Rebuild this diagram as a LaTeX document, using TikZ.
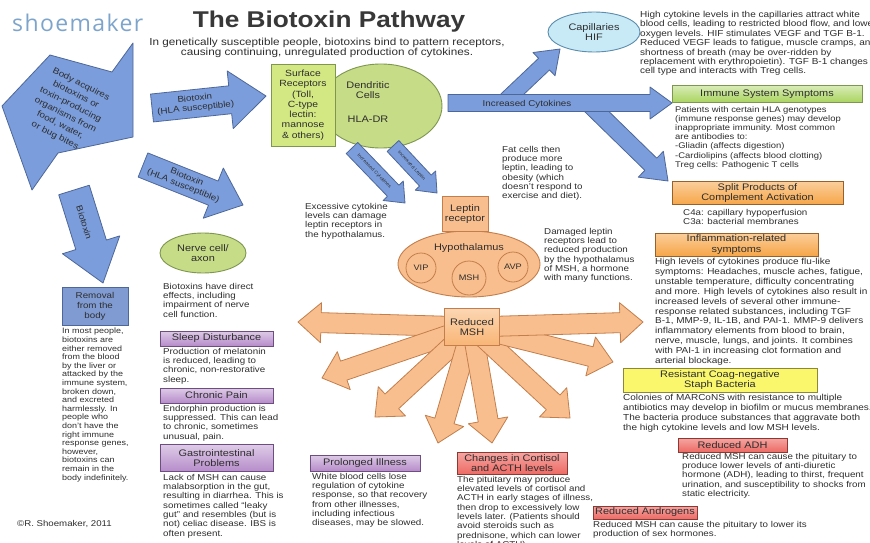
\documentclass[tikz,border=0pt]{standalone}
\usepackage{fontspec}
\setmainfont{Liberation Sans}[FakeStretch=1.15]
\newfontfamily\logofont{Open Sans}[LetterSpace=6]
\usetikzlibrary{calc,shapes.geometric}

\definecolor{ink}{HTML}{2E2E2E}
\definecolor{titleink}{HTML}{383838}
\definecolor{logoblue}{HTML}{7DA5CC}
\definecolor{bluefill}{HTML}{7B9DDC}
\definecolor{blueline}{HTML}{4D6798}
\definecolor{orfill}{HTML}{F9BE8D}
\definecolor{orline}{HTML}{C27E4C}
\definecolor{mshfill}{HTML}{F9B575}
\definecolor{grfill}{HTML}{C6DC86}
\definecolor{grline}{HTML}{7E9650}
\definecolor{lifill}{HTML}{D3E883}
\definecolor{purfill}{HTML}{B68CCA}
\definecolor{purline}{HTML}{6E4E80}
\definecolor{redfill}{HTML}{EE6A64}
\definecolor{redline}{HTML}{8E3833}
\definecolor{ambfill}{HTML}{F6A648}
\definecolor{ambline}{HTML}{96612B}
\definecolor{yelfill}{HTML}{FAF76C}
\definecolor{yelline}{HTML}{8C8838}
\definecolor{cyfill}{HTML}{C8E9F6}
\definecolor{cyline}{HTML}{5C8DAD}
\definecolor{imfill}{HTML}{A9D45E}
\definecolor{remfill}{HTML}{7F9BD2}

% block arrow: style, start, tip, half body width, half head width, head length
\newcommand{\blockarrow}[6]{%
  \draw[#1]
    ($(#2)!#4!90:(#3)$)
    -- ($(#3)!#6!(#2)!#4!-90:(#2)$)
    -- ($(#3)!#6!(#2)!#5!-90:(#2)$)
    -- (#3)
    -- ($(#3)!#6!(#2)!#5!90:(#2)$)
    -- ($(#3)!#6!(#2)!#4!90:(#2)$)
    -- ($(#2)!#4!-90:(#3)$)
    -- cycle;}

\tikzset{
  bluearr/.style={fill=bluefill, draw=blueline, line width=0.8pt, line join=round},
  orarr/.style={fill=orfill, draw=orline, line width=0.8pt, line join=round},
  lbl/.style={draw, line width=0.9pt, inner sep=0pt, align=center, text=ink,
    font=\fontsize{9.5}{10.5}\selectfont},
  purbox/.style={lbl, draw=purline, top color=purfill!45!white, bottom color=purfill},
  redbox/.style={lbl, draw=redline, top color=redfill!60!white, bottom color=redfill},
  ambbox/.style={lbl, draw=ambline, top color=ambfill!55!white, bottom color=ambfill},
  yelbox/.style={lbl, fill=yelfill, draw=yelline},
  grnbox/.style={lbl, draw=grline, top color=imfill!45!white, bottom color=imfill},
  note/.style={anchor=north west, inner sep=0pt, align=left, text=ink,
    font=\fontsize{8.5}{9.3}\selectfont},
  arrtxt/.style={sloped, align=center, text=ink, inner sep=0pt,
    font=\fontsize{8.5}{9.5}\selectfont},
  plain/.style={inner sep=0pt, align=center, text=ink,
    font=\fontsize{9.5}{10.5}\selectfont},
}

\begin{document}
\begin{tikzpicture}[x=1pt,y=-1pt]
\useasboundingbox (0,0) rectangle (870,543);
\fill[white] (0,0) rectangle (870,543);

% ---------- header ----------
\node[font=\logofont\fontsize{23}{23}\selectfont, text=logoblue, anchor=west, inner sep=0pt] (logo) at (12,23) {shoemaker};
\node[font=\bfseries\fontsize{22.8}{23}\selectfont, text=titleink, inner sep=0pt] (title) at (329,22) {The Biotoxin Pathway};
\node[font=\fontsize{10.2}{10.5}\selectfont, text=ink, align=center, inner sep=0pt] (sub) at (327,48)
  {In genetically susceptible people, biotoxins bind to pattern receptors,\\causing continuing, unregulated production of cytokines.};

% ---------- entry arrow ----------
\draw[bluearr] (50,55) -- (112,72) -- (133,43) -- (133,137) -- (58,153) -- (32,190) -- (2,106) -- cycle;
\node[rotate=-27, align=center, text=ink, inner sep=0pt, font=\fontsize{8.6}{11.5}\selectfont] (acquire) at (68,110)
  {Body acquires\\biotoxins or\\toxin-producing\\organisms from\\food, water,\\or bug bites};

% ---------- biotoxin arrows ----------
\coordinate (ba1) at (152,108); \coordinate (ba2) at (266,96);
\coordinate (bb1) at (143,165); \coordinate (bb2) at (243,205);
\coordinate (bt1) at (74,190);  \coordinate (bt2) at (103,283);
\blockarrow{bluearr}{ba1}{ba2}{14pt}{29pt}{36pt}
\blockarrow{bluearr}{bb1}{bb2}{13pt}{27pt}{32pt}
\blockarrow{bluearr}{bt1}{bt2}{16pt}{30pt}{40pt}
\path (ba1) -- (ba2) node[arrtxt, pos=0.38] (batxt) {Biotoxin\\(HLA susceptible)};
\path (bb1) -- (bb2) node[arrtxt, pos=0.42] (bbtxt) {Biotoxin\\(HLA susceptible)};
\path (bt1) -- (bt2) node[arrtxt, pos=0.35] (bttxt) {Biotoxin};

% ---------- receptors and dendritic cells ----------
\node[ellipse, fill=grfill, draw=grline, line width=0.9pt, minimum width=122pt, minimum height=84pt, inner sep=0pt] (dend) at (381,106) {};
\node[plain] (dendtxt) at (368,90) {Dendritic\\Cells};
\node[plain] (hladr) at (368,119) {HLA-DR};
\node[lbl, fill=lifill, draw=grline, minimum width=64pt, minimum height=82pt, font=\fontsize{9}{10.3}\selectfont] (surf) at (303,105)
  {Surface\\Receptors\\(Toll,\\C-type\\lectin:\\mannose\\\& others)};

% ---------- cytokine arrows ----------
\coordinate (cy1) at (448,103); \coordinate (cy2) at (672,103);
\coordinate (cp1) at (503,103); \coordinate (cp2) at (560,49);
\coordinate (sp1) at (588,103); \coordinate (sp2) at (668,181);
\blockarrow{bluearr}{cp1}{cp2}{8pt}{16pt}{22pt}
\blockarrow{bluearr}{sp1}{sp2}{8.5pt}{18pt}{24pt}
\blockarrow{bluearr}{cy1}{cy2}{8.5pt}{16pt}{22pt}
\node[plain, font=\fontsize{8.5}{9.5}\selectfont] (cytxt) at (527,104) {Increased Cytokines};

\coordinate (sa1) at (352,148); \coordinate (sa2) at (405,203);
\coordinate (sb1) at (393,146); \coordinate (sb2) at (437,193);
\blockarrow{bluearr}{sa1}{sa2}{8pt}{14pt}{17pt}
\blockarrow{bluearr}{sb1}{sb2}{8pt}{14pt}{17pt}
\path (sa1) -- (sa2) node[arrtxt, pos=0.42, font=\fontsize{4.5}{5}\selectfont] (satxt) {Increased Cytokines};
\path (sb1) -- (sb2) node[arrtxt, pos=0.42, font=\fontsize{4.5}{5}\selectfont] (sbtxt) {Increased Leptin};

\node[ellipse, fill=cyfill, draw=cyline, line width=0.9pt, minimum width=92pt, minimum height=40pt, plain] (cap) at (594,32) {Capillaries\\HIF};

% ---------- hypothalamus ----------
\node[ellipse, fill=orfill, draw=orline, line width=0.9pt, minimum width=142pt, minimum height=66pt, inner sep=0pt] (hypo) at (469,264) {};
\node[plain] (hypotxt) at (469,248) {Hypothalamus};
\node[circle, fill=orfill, draw=orline, line width=0.8pt, minimum size=30pt, plain, font=\fontsize{8}{9}\selectfont] (vip) at (421,268) {VIP};
\node[circle, fill=orfill, draw=orline, line width=0.8pt, minimum size=34pt, plain, font=\fontsize{8}{9}\selectfont] (msh) at (469,278) {MSH};
\node[circle, fill=orfill, draw=orline, line width=0.8pt, minimum size=30pt, plain, font=\fontsize{8}{9}\selectfont] (avp) at (513,267) {AVP};
\node[lbl, fill=orfill, draw=orline, minimum width=46pt, minimum height=35pt] (leptin) at (465,214) {Leptin\\receptor};

% ---------- reduced MSH fan ----------
\coordinate (m0) at (472,327);
\coordinate (t1) at (298,322); \coordinate (t2) at (322,378);
\coordinate (t3) at (375,417); \coordinate (t4) at (438,443);
\coordinate (t5) at (492,443); \coordinate (t6) at (570,418);
\coordinate (t7) at (613,362); \coordinate (t8) at (643,322);
\foreach \t in {t1,t2,t3,t4,t5,t6,t7,t8}
  {\blockarrow{orarr}{m0}{\t}{10pt}{20pt}{23pt}}
\node[lbl, draw=orline, top color=mshfill!55!white, bottom color=mshfill, minimum width=55pt, minimum height=37pt] (rmsh) at (472,327) {Reduced\\MSH};

% ---------- middle notes ----------
\node[note] (excess) at (305,203) {Excessive cytokine\\levels can damage\\leptin receptors in\\the hypothalamus.};
\node[note] (fat) at (502,146) {Fat cells then\\produce more\\leptin, leading to\\obesity (which\\doesn't respond to\\exercise and diet).};
\node[note] (damaged) at (544,228) {Damaged leptin\\receptors lead to\\reduced production\\by the hypothalamus\\of MSH, a hormone\\with many functions.};

% ---------- left column ----------
\node[lbl, fill=remfill, draw=blueline, minimum width=66pt, minimum height=38pt, font=\fontsize{8.5}{10}\selectfont] (removal) at (95,306) {Removal\\from the\\body};
\node[note, font=\fontsize{7.8}{8.6}\selectfont] (removetxt) at (62,328)
  {In most people,\\biotoxins are\\either removed\\from the blood\\by the liver or\\attacked by the\\immune system,\\broken down,\\and excreted\\harmlessly.  In\\people who\\don't have the\\right immune\\response genes,\\however,\\biotoxins can\\remain in the\\body indefinitely.};
\node[anchor=west, inner sep=0pt, text=ink, font=\fontsize{8.4}{9}\selectfont] (copy) at (17,524) {©R. Shoemaker, 2011};

% ---------- nerve column ----------
\node[ellipse, fill=grfill, draw=grline, line width=0.9pt, minimum width=86pt, minimum height=40pt, plain] (nerve) at (203,253) {Nerve cell/\\axon};
\node[note] (nervetxt) at (163,283) {Biotoxins have direct\\effects, including\\impairment of nerve\\cell function.};
\node[purbox, minimum width=113pt, minimum height=15pt] (sleep) at (216.5,338.5) {Sleep Disturbance};
\node[note] (sleeptxt) at (163,348) {Production of melatonin\\is reduced, leading to\\chronic, non-restorative\\sleep.};
\node[purbox, minimum width=113pt, minimum height=15pt] (pain) at (216.5,395.5) {Chronic Pain};
\node[note] (paintxt) at (163,405) {Endorphin production is\\suppressed.  This can lead\\to chronic, sometimes\\unusual, pain.};
\node[purbox, minimum width=113pt, minimum height=27pt] (gastro) at (216.5,458) {Gastrointestinal\\Problems};
\node[note] (gastrotxt) at (163,474) {Lack of MSH can cause\\malabsorption in the gut,\\resulting in diarrhea.  This is\\sometimes called ``leaky\\gut'' and resembles (but is\\not) celiac disease.  IBS is\\often present.};

% ---------- bottom middle ----------
\node[purbox, minimum width=110pt, minimum height=16pt] (prolong) at (365,463) {Prolonged Illness};
\node[note] (prolongtxt) at (312,473) {White blood cells lose\\regulation of cytokine\\response, so that recovery\\from other illnesses,\\including infectious\\diseases, may be slowed.};
\node[redbox, minimum width=110pt, minimum height=22pt] (cortisol) at (512,463) {Changes in Cortisol\\and ACTH levels};
\node[note] (cortisoltxt) at (457,476) {The pituitary may produce\\elevated levels of cortisol and\\ACTH in early stages of illness,\\then drop to excessively low\\levels later.  (Patients should\\avoid steroids such as\\prednisone, which can lower\\levels of ACTH)};

% ---------- right column ----------
\node[note, font=\fontsize{8.7}{9.4}\selectfont] (captxt) at (640,11) {High cytokine levels in the capillaries attract white\\blood cells, leading to restricted blood flow, and lower\\oxygen levels.  HIF stimulates VEGF and TGF B-1.\\Reduced VEGF leads to fatigue, muscle cramps, and\\shortness of breath (may be over-ridden by\\replacement with erythropoietin).  TGF B-1 changes\\cell type and interacts with Treg cells.};
\node[grnbox, minimum width=190pt, minimum height=17pt] (immune) at (767,94) {Immune System Symptoms};
\node[note, font=\fontsize{8.2}{9.2}\selectfont] (immunetxt) at (675,106) {Patients with certain HLA genotypes\\(immune response genes) may develop\\inappropriate immunity.  Most common\\are antibodies to:\\-Gliadin (affects digestion)\\-Cardiolipins (affects blood clotting)\\Treg cells:  Pathogenic T cells};
\node[ambbox, minimum width=171pt, minimum height=23pt] (split) at (757.5,193) {Split Products of\\Complement Activation};
\node[note] (splittxt) at (683,209) {C4a:  capillary hypoperfusion\\C3a:  bacterial membranes};
\node[ambbox, minimum width=163pt, minimum height=23pt] (inflam) at (736.5,244.5) {Inflammation-related\\symptoms};
\node[note, font=\fontsize{8.7}{9.9}\selectfont] (inflamtxt) at (655,258) {High levels of cytokines produce flu-like\\symptoms: Headaches, muscle aches, fatigue,\\unstable temperature, difficulty concentrating\\and more.  High levels of cytokines also result in\\increased levels of several other immune-\\response related substances, including TGF\\B-1, MMP-9, IL-1B, and PAI-1.  MMP-9 delivers\\inflammatory elements from blood to brain,\\nerve, muscle, lungs, and joints.  It combines\\with PAI-1 in increasing clot formation and\\arterial blockage.};
\node[yelbox, minimum width=194pt, minimum height=24pt] (staph) at (720,380) {Resistant Coag-negative\\Staph Bacteria};
\node[note, font=\fontsize{8.7}{10}\selectfont] (staphtxt) at (623,394) {Colonies of MARCoNS with resistance to multiple\\antibiotics may develop in biofilm or mucus membranes.\\The bacteria produce substances that aggravate both\\the high cytokine levels and low MSH levels.};
\node[redbox, minimum width=109pt, minimum height=14pt] (adh) at (732.5,445) {Reduced ADH};
\node[note] (adhtxt) at (682,453) {Reduced MSH can cause the pituitary to\\produce lower levels of anti-diuretic\\hormone (ADH), leading to thirst, frequent\\urination, and susceptibility to shocks from\\static electricity.};
\node[redbox, minimum width=104pt, minimum height=13pt] (andro) at (645,512.5) {Reduced Androgens};
\node[note] (androtxt) at (593,521) {Reduced MSH can cause the pituitary to lower its\\production of sex hormones.};

\end{tikzpicture}
\end{document}
